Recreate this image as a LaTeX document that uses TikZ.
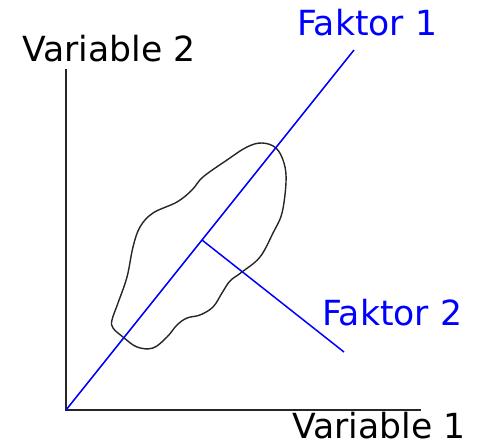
\documentclass[tikz,border=0pt]{standalone}
\usepackage{fontspec}
\setmainfont{DejaVu Sans}
\usetikzlibrary{calc}

\begin{document}
\begin{tikzpicture}[x=1pt, y=-1pt, axisline/.style={line width=1.6pt, black!85}, faktorline/.style={line width=1.5pt, blue}, every node/.style={inner sep=0pt, anchor=base west, font=\fontsize{34.6}{40}\selectfont}]
  \useasboundingbox (0,0) rectangle (481,446);
  \coordinate (origin) at (66,410);
  \coordinate (ytop) at (66,69);
  \coordinate (xend) at (421,410);
  \coordinate (f1end) at (354,50);
  \coordinate (f2start) at (202,240);
  \coordinate (f2end) at (344,352);
  \node (var2) at (22,62) {Variable 2};
  \node (var1) at (292,438) {Variable 1};
  \node[text=blue] (fak1) at (297,36) {Faktor 1};
  \node[text=blue] (fak2) at (322,325) {Faktor 2};
  % point cloud outline
  \draw[line width=1.4pt, black!85] plot[smooth cycle, tension=0.6] coordinates {(262,143) (276,148) (284,163) (286,182) (282,213) (273,233) (260,257) (242,272) (230,281) (222,293) (213,307) (200,315) (187,318) (177,325) (167,337) (153,348) (137,347) (123,337) (113,328) (112,320) (118,303) (127,277) (133,247) (140,227) (153,213) (177,202) (192,190) (203,177) (227,160) (247,147)};
  \draw[axisline] (ytop) -- (origin) -- (xend);
  \draw[faktorline] (origin) -- (f1end);
  \draw[faktorline] (f2start) -- (f2end);
\end{tikzpicture}
\end{document}
